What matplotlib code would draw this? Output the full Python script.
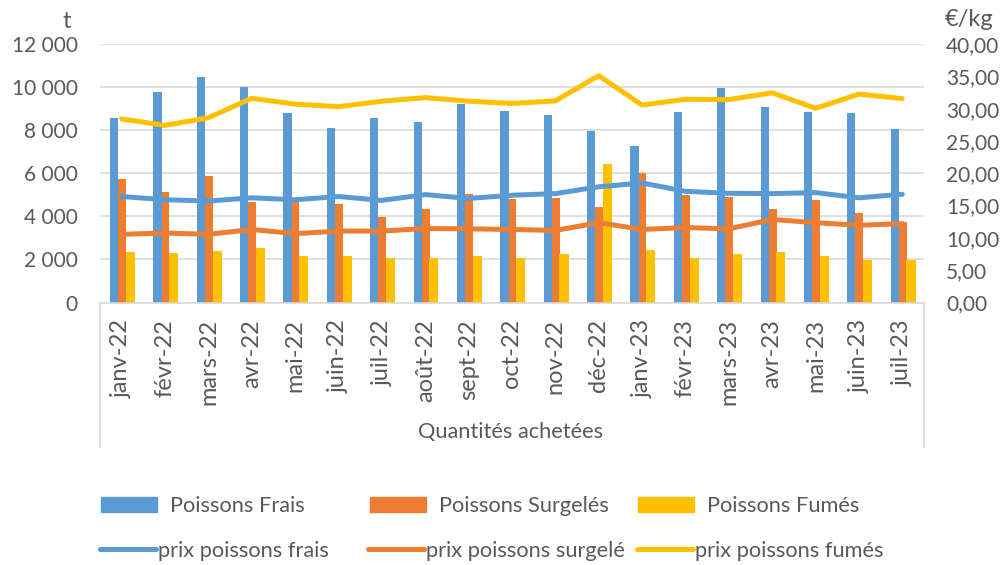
import matplotlib
matplotlib.use("Agg")
import matplotlib.pyplot as plt
import numpy as np
from matplotlib.patches import Patch
from matplotlib.lines import Line2D

plt.rcParams['font.family'] = ['Lato', 'DejaVu Sans']

# donnees
mois = ["janv-22", "févr-22", "mars-22", "avr-22", "mai-22", "juin-22", "juil-22",
        "août-22", "sept-22", "oct-22", "nov-22", "déc-22", "janv-23", "févr-23",
        "mars-23", "avr-23", "mai-23", "juin-23", "juil-23"]

qte_frais = [8550, 9750, 10450, 9990, 8810, 8080, 8550, 8370, 9210, 8870, 8710,
             7970, 7270, 8850, 9970, 9090, 8840, 8790, 8060]
qte_surgeles = [5720, 5150, 5880, 4670, 4650, 4570, 3980, 4330, 5020, 4790, 4850,
                4420, 6030, 5010, 4900, 4330, 4740, 4170, 3750]
qte_fumes = [2340, 2310, 2400, 2530, 2170, 2140, 2080, 2050, 2140, 2050, 2230,
             6420, 2420, 2050, 2260, 2340, 2140, 1950, 1970]

prix_frais = [16.4, 15.9, 15.7, 16.2, 15.9, 16.4, 15.8, 16.7, 16.1, 16.6, 16.85,
              17.9, 18.5, 17.2, 16.9, 16.85, 17.0, 16.2, 16.75]
prix_surgele = [10.55, 10.75, 10.55, 11.3, 10.65, 11.05, 11.05, 11.45, 11.4, 11.3, 11.15,
                12.35, 11.3, 11.6, 11.4, 12.85, 12.35, 11.95, 12.2]
prix_fumes = [28.4, 27.4, 28.6, 31.6, 30.7, 30.3, 31.15, 31.7, 31.15, 30.8, 31.2,
              35.1, 30.55, 31.45, 31.4, 32.45, 30.05, 32.25, 31.55]

BLEU = "#5B9BD5"
ORANGE = "#ED7D31"
JAUNE = "#FFC000"
GRIS = "#D9D9D9"
TEXTE = "#595959"

W, H = 1008, 565
fig = plt.figure(figsize=(W / 100, H / 100), dpi=100)
ax = fig.add_axes([100 / W, 1 - 302.5 / H, 824 / W, 258.5 / H])
ax2 = ax.twinx()

x = np.arange(len(mois))
ax.bar(x - 0.175, qte_frais, width=0.19, color=BLEU, zorder=2)
ax.bar(x + 0.01, qte_surgeles, width=0.18, color=ORANGE, zorder=2)
ax.bar(x + 0.2, qte_fumes, width=0.21, color=JAUNE, zorder=2)

lw = 3.6
ax2.plot(x, prix_frais, color=BLEU, lw=lw, solid_capstyle='round', solid_joinstyle='round')
ax2.plot(x, prix_surgele, color=ORANGE, lw=lw, solid_capstyle='round', solid_joinstyle='round')
ax2.plot(x, prix_fumes, color=JAUNE, lw=lw, solid_capstyle='round', solid_joinstyle='round')

ax.set_xlim(-0.5, len(mois) - 0.5)
ax.set_ylim(0, 12000)
ax2.set_ylim(0, 40)
ax.set_yticks(np.arange(0, 12001, 2000))
ax.set_yticklabels([f"{v:,}".replace(",", " ") for v in range(0, 12001, 2000)])
ax2.set_yticks(np.arange(0, 41, 5))
ax2.set_yticklabels([f"{v:.2f}".replace(".", ",") for v in range(0, 41, 5)])
ax.set_xticks(x)
ax.set_xticklabels(mois, rotation=90)

ax.grid(axis='y', color=GRIS, lw=1.2)
ax.set_axisbelow(True)
for a in (ax, ax2):
    for s in a.spines.values():
        s.set_visible(False)
ax.spines['bottom'].set_visible(True)
ax.spines['bottom'].set_color(GRIS)
ax.spines['bottom'].set_linewidth(1.2)

ax.tick_params(axis='y', length=0, pad=16, labelsize=15, labelcolor=TEXTE)
ax2.tick_params(axis='y', length=0, pad=16, labelsize=15, labelcolor=TEXTE)
ax.tick_params(axis='x', length=0, pad=12, labelsize=17, labelcolor=TEXTE)

# cadre de l'axe des categories
for xa in (0, 1):
    ax.plot([xa, xa], [0, -144 / 258.5], transform=ax.transAxes, color=GRIS,
            lw=1.2, clip_on=False)

fig.text(511 / W, 1 - 432 / H, "Quantités achetées", ha='center', va='center',
         fontsize=15.7, color=TEXTE)
fig.text(67 / W, 1 - 22 / H, "t", ha='center', va='center', fontsize=17, color=TEXTE)
fig.text(945 / W, 1 - 19 / H, "€/kg", ha='left', va='center', fontsize=17, color=TEXTE)

# legende
entrees = [
    (Patch(color=BLEU), "Poissons Frais", 101, 506, 0.6),
    (Patch(color=ORANGE), "Poissons Surgelés", 370, 506, 0.6),
    (Patch(color=JAUNE), "Poissons Fumés", 638, 506, 0.6),
    (Line2D([], [], color=BLEU, lw=lw, solid_capstyle='round'), "prix poissons frais", 100, 551, 0.1),
    (Line2D([], [], color=ORANGE, lw=lw, solid_capstyle='round'), "prix poissons surgelé", 368, 551, 0.1),
    (Line2D([], [], color=JAUNE, lw=lw, solid_capstyle='round'), "prix poissons fumés", 637, 551, 0.1),
]
for h, lab, px, py, pad in entrees:
    leg = fig.legend(handles=[h], labels=[lab], loc='center left',
                     bbox_to_anchor=(px / W, 1 - py / H), frameon=False,
                     borderpad=0, borderaxespad=0, handlelength=2.55,
                     handletextpad=pad, fontsize=15.7)
    for t in leg.get_texts():
        t.set_color(TEXTE)

fig.savefig("out.png", dpi=100)
